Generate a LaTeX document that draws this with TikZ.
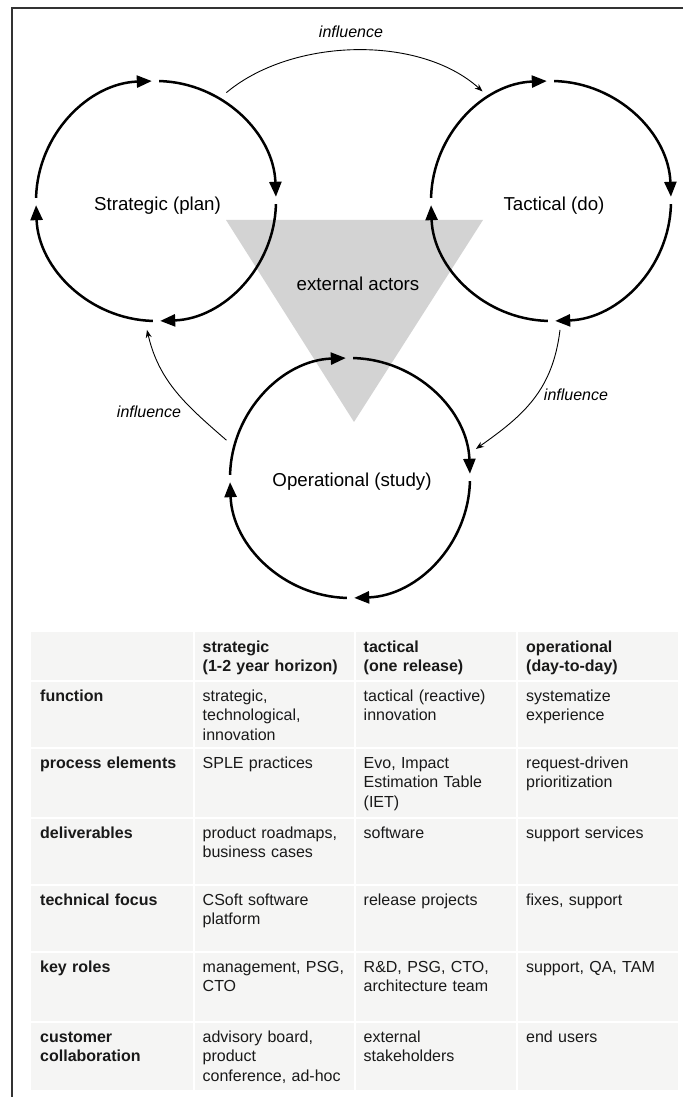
\documentclass[tikz,border=0pt]{standalone}
\usepackage{fontspec}
\setmainfont{Liberation Sans}
\usetikzlibrary{arrows.meta,calc}

\definecolor{framegray}{RGB}{51,51,51}
\definecolor{actorgray}{RGB}{211,211,211}
\definecolor{cellgray}{RGB}{245,245,244}
\definecolor{celltext}{RGB}{25,25,25}

\begin{document}
\begin{tikzpicture}[x=1pt,y=1pt,
  ring/.style={circle, minimum size=258pt, inner sep=0pt},
  cyclearc/.style={line width=2.5pt, -{Triangle[length=15pt,width=12pt]}},
  phaselabel/.style={font=\fontsize{18.7}{22}\selectfont, inner sep=0pt},
  influencearrow/.style={line width=0.9pt, -{Stealth[length=8pt,width=6pt]}},
  influencelabel/.style={font=\fontsize{16}{19}\selectfont\itshape, inner sep=0pt},
  cell/.style={anchor=north west, inner sep=0pt, text width=152pt, align=left,
    font=\fontsize{16}{19.7}\selectfont, text=celltext, execute at begin node=\strut},
  headcell/.style={cell, font=\fontsize{16}{19.7}\selectfont\bfseries},
]
\useasboundingbox (0,0) rectangle (683,1097);

% outer frame (top and left edges)
\draw[framegray, line width=2pt] (683,1089) -- (12,1089) -- (12,0);

% shared area of the external actors
\fill[actorgray] (226,877) -- (483,877) -- (354,675) -- cycle;
\node[phaselabel] (actors) at (358,813) {external actors};

% the three cycles
\node[ring] (S) at (156,896) {};
\node[ring] (T) at (551,896) {};
\node[ring] (O) at (350,619) {};

\foreach \c in {S,T,O}{
  \foreach \a/\b in {178.5/92, 88.5/2, -1.5/-88, -91.5/-178}
    \draw[cyclearc] ($(\c.center)+(\a:120pt)$) arc[start angle=\a, end angle=\b, radius=120pt];
}

\node[phaselabel] (S-label) at (157.5,891) {Strategic (plan)};
\node[phaselabel] (T-label) at (554,891) {Tactical (do)};
\node[phaselabel] (O-label) at (352,615) {Operational (study)};

% influence between the cycles
\draw[influencearrow] (S.57) to[out=40, in=138, looseness=0.85] (T.122);
\draw[influencearrow] (O.163) to[out=139, in=-77] (S.266.5);
\draw[influencearrow] (T.-86) to[out=-97, in=35, looseness=1.05] (O.13);

\node[influencelabel] (inf-top) at (351,1065) {influence};
\node[influencelabel] (inf-left) at (149,685) {influence};
\node[influencelabel] (inf-right) at (576,702) {influence};

% table background and white cell separators
\fill[cellgray] (31,7) rectangle (678,465);
\foreach \x in {194,355,517}
  \draw[white, line width=2pt] (\x,7) -- (\x,465);
\foreach \y in {416,349,279,212,145,75}
  \draw[white, line width=2pt] (31,\y) -- (678,\y);

% header row
\node[headcell] (h-str) at (202.5,458.8) {strategic\\(1-2 year horizon)};
\node[headcell] (h-tac) at (363.5,458.8) {tactical\\(one release)};
\node[headcell] (h-op)  at (526,458.8)   {operational\\(day-to-day)};

% function
\node[headcell] (r1-lab) at (40,409.8)    {function};
\node[cell]     (r1-str) at (202.5,409.8) {strategic,\\technological,\\innovation};
\node[cell]     (r1-tac) at (363.5,409.8) {tactical (reactive)\\innovation};
\node[cell]     (r1-op)  at (526,409.8)   {systematize\\experience};

% process elements
\node[headcell] (r2-lab) at (40,342.8)    {process elements};
\node[cell]     (r2-str) at (202.5,342.8) {SPLE practices};
\node[cell]     (r2-tac) at (363.5,342.8) {Evo, Impact\\Estimation Table\\(IET)};
\node[cell]     (r2-op)  at (526,342.8)   {request-driven\\prioritization};

% deliverables
\node[headcell] (r3-lab) at (40,272.8)    {deliverables};
\node[cell]     (r3-str) at (202.5,272.8) {product roadmaps,\\business cases};
\node[cell]     (r3-tac) at (363.5,272.8) {software};
\node[cell]     (r3-op)  at (526,272.8)   {support services};

% technical focus
\node[headcell] (r4-lab) at (40,205.8)    {technical focus};
\node[cell]     (r4-str) at (202.5,205.8) {CSoft software\\platform};
\node[cell]     (r4-tac) at (363.5,205.8) {release projects};
\node[cell]     (r4-op)  at (526,205.8)   {fixes, support};

% key roles
\node[headcell] (r5-lab) at (40,138.8)    {key roles};
\node[cell]     (r5-str) at (202.5,138.8) {management, PSG,\\CTO};
\node[cell]     (r5-tac) at (363.5,138.8) {R\&D, PSG, CTO,\\architecture team};
\node[cell]     (r5-op)  at (526,138.8)   {support, QA, TAM};

% customer collaboration
\node[headcell] (r6-lab) at (40,68.8)    {customer\\collaboration};
\node[cell]     (r6-str) at (202.5,68.8) {advisory board,\\product\\conference, ad-hoc};
\node[cell]     (r6-tac) at (363.5,68.8) {external\\stakeholders};
\node[cell]     (r6-op)  at (526,68.8)   {end users};
\end{tikzpicture}
\end{document}
